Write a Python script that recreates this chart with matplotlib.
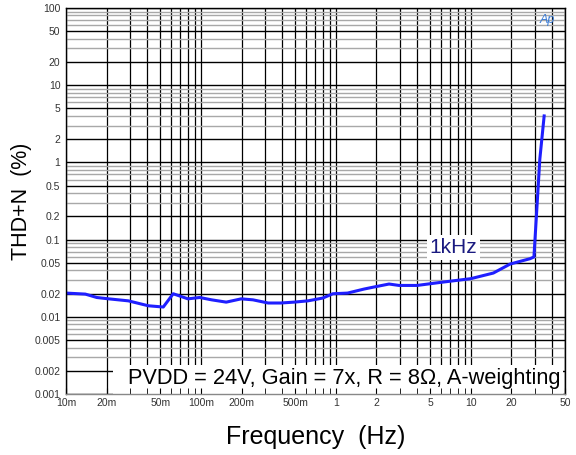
import matplotlib
matplotlib.use("Agg")
import matplotlib.pyplot as plt
from matplotlib.patches import Rectangle
from matplotlib.ticker import FixedLocator, NullFormatter
import numpy as np

plt.rcParams['font.family'] = ['Liberation Sans', 'DejaVu Sans']

# THD+N sweep at 1 kHz
power = [0.01, 0.0139, 0.0169, 0.0207, 0.029, 0.0408, 0.0526, 0.0623, 0.0801,
         0.098, 0.12, 0.154, 0.199, 0.243, 0.315, 0.39, 0.49, 0.62, 0.80,
         0.95, 1.22, 1.62, 1.91, 2.48, 2.94, 4.0, 5.95, 10.0, 14.7, 19.6,
         27.5, 29.4, 32.5, 35.0]
thdn = [0.0203, 0.0197, 0.0178, 0.0171, 0.0161, 0.0139, 0.0134, 0.0199, 0.0171,
        0.0178, 0.0166, 0.0155, 0.0171, 0.0166, 0.0151, 0.0151, 0.0155, 0.0161, 0.0175,
        0.0199, 0.0203, 0.0229, 0.0243, 0.0266, 0.0255, 0.0255, 0.0279, 0.0312, 0.0369, 0.0483,
        0.0566, 0.0596, 1.1, 4.0]

x_ticks = [0.01, 0.02, 0.05, 0.1, 0.2, 0.5, 1, 2, 5, 10, 20, 50]
x_labels = ['10m', '20m', '50m', '100m', '200m', '500m', '1', '2', '5', '10', '20', '50']
y_ticks = [0.001, 0.002, 0.005, 0.01, 0.02, 0.05, 0.1, 0.2, 0.5, 1, 2, 5, 10, 20, 50, 100]
y_labels = ['0.001', '0.002', '0.005', '0.01', '0.02', '0.05', '0.1', '0.2', '0.5',
            '1', '2', '5', '10', '20', '50', '100']

fig = plt.figure(figsize=(5.76, 4.55), dpi=100)
ax = fig.add_axes([0.1146, 0.134, 0.8664, 0.8484])
ax.set_xscale('log')
ax.set_yscale('log')
ax.set_xlim(0.01, 50)
ax.set_ylim(0.001, 100)

# full 1..9 grid per decade
x_grid = [m * 10.0 ** e for e in range(-2, 2) for m in range(1, 10)] + [50]
y_grid = [m * 10.0 ** e for e in range(-3, 2) for m in range(1, 10)] + [100]
for gx in x_grid:
    ax.axvline(gx, color='black', lw=0.9, zorder=0.5)
for gy in y_grid:
    lead = round(gy / 10.0 ** np.floor(np.log10(gy) + 1e-9))
    col = 'black' if lead in (1, 2, 5) else '#a8a8a8'
    ax.axhline(gy, color=col, lw=1.0, zorder=0.5)

ax.plot(power, thdn, color='#1f1fff', lw=2.2, zorder=2)

ax.xaxis.set_major_locator(FixedLocator(x_ticks))
ax.set_xticklabels(x_labels)
ax.xaxis.set_minor_locator(FixedLocator(x_grid))
ax.xaxis.set_minor_formatter(NullFormatter())
ax.yaxis.set_major_locator(FixedLocator(y_ticks))
ax.set_yticklabels(y_labels)
ax.yaxis.set_minor_locator(FixedLocator([]))
ax.tick_params(axis='both', which='both', direction='in', length=4,
               labelsize=7.5, labelcolor='#333333', color='black')
ax.tick_params(axis='x', pad=3)
ax.tick_params(axis='y', length=0, pad=4)

for side in ax.spines.values():
    side.set_color('black')
    side.set_linewidth(1.0)
ax.spines['bottom'].set_color('#888888')

# condition box along the bottom
ax.add_patch(Rectangle((0.094, 0.0), 0.902, 0.075, transform=ax.transAxes,
                       facecolor='white', edgecolor='none', zorder=1.5))
ax.text(0.99, 0.012, 'PVDD = 24V, Gain = 7x, R = 8\u03a9, A-weighting',
        transform=ax.transAxes, ha='right', va='bottom', fontsize=15.7,
        color='black', zorder=1.6)

ax.text(7.43, 0.0787, '1kHz', ha='center', va='center', fontsize=15,
        color='#1a1a80', zorder=3,
        bbox=dict(facecolor='white', edgecolor='none', pad=2))

ax.text(0.965, 0.985, 'Ap', transform=ax.transAxes, ha='center', va='top',
        fontsize=9, style='italic', color='#3a7bd5', zorder=3)

ax.set_ylabel('THD+N  (%)', fontsize=15.5, labelpad=2)
ax.set_xlabel('Frequency  (Hz)', fontsize=18, labelpad=12)

fig.savefig('out.png', dpi=100)
